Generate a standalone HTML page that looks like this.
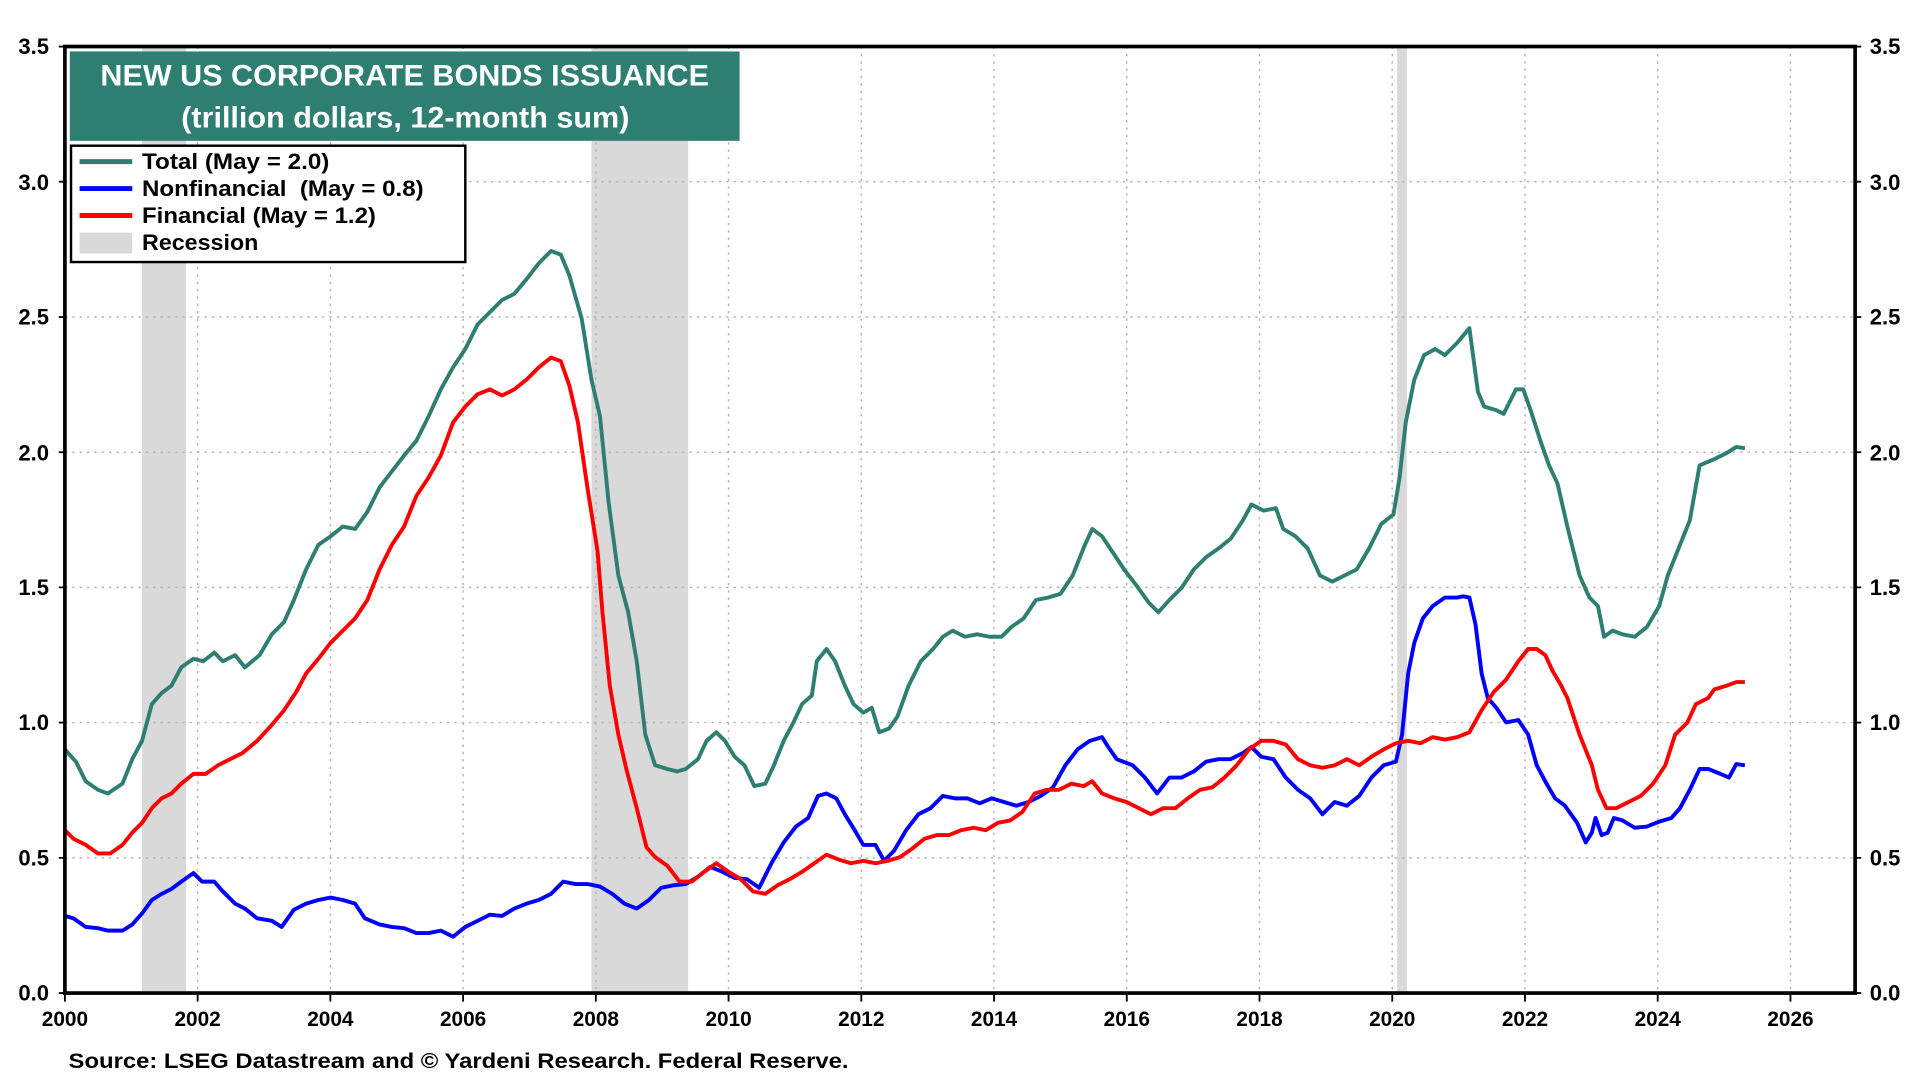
<!DOCTYPE html>
<html><head><meta charset="utf-8"><style>
html,body{margin:0;padding:0;background:#fff;}
svg{display:block;font-family:"Liberation Sans",Arial,sans-serif;font-weight:bold;}
</style></head><body>
<svg width="1920" height="1080" viewBox="0 0 1568 882" xmlns="http://www.w3.org/2000/svg">
<rect width="1568" height="882" fill="#fff"/>
<rect x="116" y="38" width="36" height="773" fill="#d9d9d9"/>
<rect x="483" y="38" width="79" height="773" fill="#d9d9d9"/>
<rect x="1141" y="38" width="8" height="773" fill="#d9d9d9"/>
<g stroke="#b8b8b8" stroke-width="1.2" stroke-dasharray="2,4">
<line x1="53" x2="1515" y1="148.4" y2="148.4"/><line x1="53" x2="1515" y1="258.9" y2="258.9"/>
<line x1="53" x2="1515" y1="369.3" y2="369.3"/><line x1="53" x2="1515" y1="479.7" y2="479.7"/>
<line x1="53" x2="1515" y1="590.1" y2="590.1"/><line x1="53" x2="1515" y1="700.6" y2="700.6"/>
<line y1="38" y2="811" x1="161.4" x2="161.4"/><line y1="38" y2="811" x1="269.8" x2="269.8"/>
<line y1="38" y2="811" x1="378.2" x2="378.2"/><line y1="38" y2="811" x1="486.6" x2="486.6"/>
<line y1="38" y2="811" x1="595" x2="595"/><line y1="38" y2="811" x1="703.4" x2="703.4"/>
<line y1="38" y2="811" x1="811.8" x2="811.8"/><line y1="38" y2="811" x1="920.2" x2="920.2"/>
<line y1="38" y2="811" x1="1028.6" x2="1028.6"/><line y1="38" y2="811" x1="1137" x2="1137"/>
<line y1="38" y2="811" x1="1245.4" x2="1245.4"/><line y1="38" y2="811" x1="1353.8" x2="1353.8"/>
<line y1="38" y2="811" x1="1462.2" x2="1462.2"/>
</g>
<g fill="none" stroke-width="3.2" stroke-linejoin="round">
<polyline stroke="#2e7f72" points="53,612 62,622 70,638 80,645 88,648 100,640 108,620 116,605 124,575 132,566 140,560 148,545 158,538 166,540 175,533 182,540 192,535 200,545 212,535 222,518 232,508 240,490 250,465 260,445 270,438 280,430 290,432 300,418 310,398 320,385 330,372 340,360 350,340 360,318 370,300 380,285 390,265 400,255 410,245 420,240 430,228 440,215 450,205 458,208 465,225 475,260 483,310 490,340 497,410 505,470 513,500 520,540 527,600 535,625 545,628 553,630 560,628 570,620 577,605 585,598 592,605 600,618 608,625 616,642 625,640 632,625 640,605 648,590 655,575 663,568 667,540 675,530 682,540 690,560 697,575 705,582 712,578 718,598 726,595 733,585 742,560 752,540 762,530 770,520 778,515 788,520 798,518 808,520 818,520 826,512 836,505 846,490 856,488 866,485 876,470 886,445 892,432 900,438 908,450 918,465 928,478 938,492 946,500 955,490 965,480 975,465 985,455 995,448 1005,440 1015,425 1022,412 1032,417 1042,415 1048,432 1058,438 1068,448 1078,470 1088,475 1098,470 1108,465 1118,448 1128,428 1138,420 1143,390 1148,345 1155,310 1163,290 1172,285 1180,290 1190,280 1200,268 1207,320 1212,332 1222,335 1228,338 1238,318 1244,318 1250,335 1258,360 1265,380 1272,395 1280,430 1290,470 1298,488 1305,495 1310,520 1317,515 1325,518 1335,520 1345,512 1355,495 1362,470 1370,450 1380,425 1388,380 1400,375 1410,370 1418,365 1425,366"/>
<polyline stroke="#0000ff" points="53,748 60,750 70,757 80,758 88,760 100,760 108,755 116,746 124,735 132,730 140,726 148,720 158,713 165,720 175,720 182,728 192,738 200,742 210,750 222,752 230,757 240,743 250,738 260,735 270,733 280,735 290,738 298,750 310,755 320,757 330,758 340,762 350,762 360,760 370,765 380,757 390,752 400,747 410,748 420,742 430,738 440,735 450,730 460,720 470,722 480,722 490,724 500,730 510,738 520,742 530,735 540,725 550,723 560,722 570,716 580,708 590,712 600,717 610,718 620,725 630,705 640,688 650,675 660,668 668,650 675,648 683,652 690,665 698,678 705,690 715,690 722,703 730,695 740,678 750,665 760,660 770,650 780,652 790,652 800,656 810,652 820,655 830,658 840,655 850,650 860,643 870,625 880,612 890,605 900,602 905,610 912,620 925,625 935,635 945,648 955,635 965,635 975,630 985,622 995,620 1005,620 1015,615 1022,610 1030,618 1040,620 1050,635 1060,645 1070,652 1080,665 1090,655 1100,658 1110,650 1120,635 1130,625 1140,622 1145,600 1150,550 1155,525 1162,505 1170,495 1180,488 1190,488 1195,487 1200,488 1205,510 1210,550 1215,570 1222,578 1230,590 1240,588 1248,600 1255,625 1263,640 1270,652 1278,658 1288,672 1295,688 1300,680 1303,668 1308,682 1313,680 1318,668 1325,670 1335,676 1345,675 1355,671 1365,668 1372,660 1380,645 1388,628 1395,628 1405,632 1412,635 1418,624 1425,625"/>
<polyline stroke="#ff0000" points="53,678 60,685 70,690 80,697 90,697 100,690 108,680 116,672 124,660 132,652 140,648 148,640 158,632 168,632 178,625 188,620 198,615 210,605 222,592 232,580 242,565 250,550 260,538 270,525 280,515 290,505 300,490 310,465 320,445 330,430 340,405 350,390 360,372 370,345 380,332 390,322 400,318 410,323 420,318 430,310 440,300 450,292 458,295 465,315 472,345 480,400 488,450 492,500 498,560 505,600 512,630 520,660 528,692 535,700 545,707 555,720 565,720 575,712 585,705 595,712 605,718 615,728 625,730 635,723 645,718 655,712 665,705 675,698 685,702 695,705 705,703 715,705 725,703 735,700 745,693 755,685 765,682 775,682 785,678 795,676 805,678 815,672 825,670 835,663 845,648 855,645 865,645 875,640 885,642 892,638 900,648 910,652 920,655 930,660 940,665 950,660 960,660 970,652 980,645 990,643 1000,635 1010,625 1020,612 1030,605 1040,605 1050,608 1060,620 1070,625 1080,627 1090,625 1100,620 1110,625 1120,618 1130,612 1140,607 1150,605 1160,607 1170,602 1180,604 1190,602 1200,598 1210,580 1220,565 1230,555 1240,540 1248,530 1255,530 1262,535 1268,548 1275,560 1280,570 1290,600 1300,625 1305,645 1312,660 1320,660 1330,655 1340,650 1350,640 1360,625 1368,600 1378,590 1385,575 1395,570 1400,563 1410,560 1418,557 1425,557"/>
</g>
<rect x="53" y="38" width="1462" height="773" fill="none" stroke="#000" stroke-width="3"/>
<g stroke="#000" stroke-width="1.5">
<path d="M48,38H53M48,148.4H53M48,258.9H53M48,369.3H53M48,479.7H53M48,590.1H53M48,700.6H53M48,811H53"/>
<path d="M1515,38H1520M1515,148.4H1520M1515,258.9H1520M1515,369.3H1520M1515,479.7H1520M1515,590.1H1520M1515,700.6H1520M1515,811H1520"/>
<path d="M53,811V818M161.4,811V818M269.8,811V818M378.2,811V818M486.6,811V818M595,811V818M703.4,811V818M811.8,811V818M920.2,811V818M1028.6,811V818M1137,811V818M1245.4,811V818M1353.8,811V818M1462.2,811V818"/>
</g>
<g font-size="18" fill="#000">
<g text-anchor="end">
<text x="40" y="44">3.5</text><text x="40" y="155">3.0</text><text x="40" y="265">2.5</text><text x="40" y="376">2.0</text><text x="40" y="486">1.5</text><text x="40" y="596">1.0</text><text x="40" y="707">0.5</text><text x="40" y="817">0.0</text>
</g>
<g>
<text x="1527" y="44">3.5</text><text x="1527" y="155">3.0</text><text x="1527" y="265">2.5</text><text x="1527" y="376">2.0</text><text x="1527" y="486">1.5</text><text x="1527" y="596">1.0</text><text x="1527" y="707">0.5</text><text x="1527" y="817">0.0</text>
</g>
<g text-anchor="middle" font-size="17">
<text x="53" y="838">2000</text><text x="161.4" y="838">2002</text><text x="269.8" y="838">2004</text><text x="378.2" y="838">2006</text><text x="486.6" y="838">2008</text><text x="595" y="838">2010</text><text x="703.4" y="838">2012</text><text x="811.8" y="838">2014</text><text x="920.2" y="838">2016</text><text x="1028.6" y="838">2018</text><text x="1137" y="838">2020</text><text x="1245.4" y="838">2022</text><text x="1353.8" y="838">2024</text><text x="1462.2" y="838">2026</text>
</g>
<text x="56" y="872" font-size="17" textLength="637" lengthAdjust="spacingAndGlyphs">Source: LSEG Datastream and © Yardeni Research. Federal Reserve.</text>
</g>
<rect x="57" y="42" width="547" height="73" fill="#2e7f72"/>
<g fill="#fff" font-size="24">
<text x="82" y="70" textLength="497" lengthAdjust="spacingAndGlyphs">NEW US CORPORATE BONDS ISSUANCE</text>
<text x="148" y="104" textLength="366" lengthAdjust="spacingAndGlyphs">(trillion dollars, 12-month sum)</text>
</g>
<rect x="58" y="119" width="322" height="95" fill="#fff" stroke="#000" stroke-width="2"/>
<g stroke-width="4">
<line x1="65" x2="108" y1="132" y2="132" stroke="#2e7f72"/>
<line x1="65" x2="108" y1="154" y2="154" stroke="#0000ff"/>
<line x1="65" x2="108" y1="176" y2="176" stroke="#ff0000"/>
</g>
<rect x="65" y="190" width="43" height="17" fill="#d9d9d9"/>
<g font-size="18" fill="#000">
<text x="116" y="138" textLength="153" lengthAdjust="spacingAndGlyphs">Total (May = 2.0)</text>
<text x="116" y="160" textLength="230" lengthAdjust="spacingAndGlyphs" xml:space="preserve">Nonfinancial  (May = 0.8)</text>
<text x="116" y="182" textLength="191" lengthAdjust="spacingAndGlyphs">Financial (May = 1.2)</text>
<text x="116" y="204" textLength="95" lengthAdjust="spacingAndGlyphs">Recession</text>
</g>
</svg>
</body></html>
